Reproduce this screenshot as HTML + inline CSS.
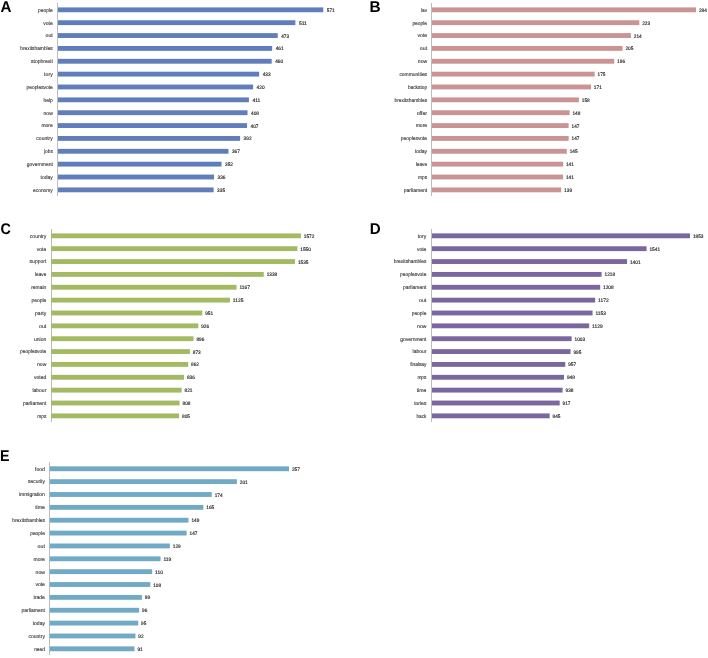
<!DOCTYPE html>
<html><head><meta charset="utf-8"><style>
html,body{margin:0;padding:0;background:#fff;}
body{width:708px;height:658px;position:relative;overflow:hidden;font-family:"Liberation Sans",sans-serif;}
svg{position:absolute;left:0;top:0;}
text{font-family:"Liberation Sans",sans-serif;text-rendering:geometricPrecision;}
.t{fill:#333333;stroke:#333333;stroke-width:0.12px;font-size:5.3px;}
.v{fill:#202020;stroke:#202020;stroke-width:0.14px;font-size:5px;}
svg{will-change:transform;}
.L{font-weight:bold;font-size:15.5px;fill:#000;}
</style></head><body>
<svg width="708" height="658" viewBox="0 0 708 658">
<text class="L" x="0.62" y="11.8" textLength="10.98" lengthAdjust="spacingAndGlyphs">A</text>
<rect x="57" y="3" width="1" height="193" fill="#bcbcbc"/>
<rect x="58" y="7.4" width="265.25" height="4.85" fill="#607EBB"/>
<rect x="58" y="20.26" width="237.38" height="4.85" fill="#607EBB"/>
<rect x="58" y="33.12" width="219.73" height="4.85" fill="#607EBB"/>
<rect x="58" y="45.98" width="214.15" height="4.85" fill="#607EBB"/>
<rect x="58" y="58.84" width="213.69" height="4.85" fill="#607EBB"/>
<rect x="58" y="71.7" width="201.14" height="4.85" fill="#607EBB"/>
<rect x="58" y="84.56" width="195.11" height="4.85" fill="#607EBB"/>
<rect x="58" y="97.42" width="190.92" height="4.85" fill="#607EBB"/>
<rect x="58" y="110.28" width="189.53" height="4.85" fill="#607EBB"/>
<rect x="58" y="123.14" width="189.07" height="4.85" fill="#607EBB"/>
<rect x="58" y="136" width="182.1" height="4.85" fill="#607EBB"/>
<rect x="58" y="148.86" width="170.48" height="4.85" fill="#607EBB"/>
<rect x="58" y="161.72" width="163.52" height="4.85" fill="#607EBB"/>
<rect x="58" y="174.58" width="156.08" height="4.85" fill="#607EBB"/>
<rect x="58" y="187.44" width="155.62" height="4.85" fill="#607EBB"/>
<text class="L" x="369.57" y="11.7" textLength="11.13" lengthAdjust="spacingAndGlyphs">B</text>
<rect x="431" y="3" width="1" height="193" fill="#bcbcbc"/>
<rect x="432" y="7.4" width="264" height="4.85" fill="#C99493"/>
<rect x="432" y="20.26" width="207.3" height="4.85" fill="#C99493"/>
<rect x="432" y="33.12" width="198.93" height="4.85" fill="#C99493"/>
<rect x="432" y="45.98" width="190.56" height="4.85" fill="#C99493"/>
<rect x="432" y="58.84" width="182.2" height="4.85" fill="#C99493"/>
<rect x="432" y="71.7" width="162.68" height="4.85" fill="#C99493"/>
<rect x="432" y="84.56" width="158.96" height="4.85" fill="#C99493"/>
<rect x="432" y="97.42" width="146.87" height="4.85" fill="#C99493"/>
<rect x="432" y="110.28" width="137.58" height="4.85" fill="#C99493"/>
<rect x="432" y="123.14" width="136.65" height="4.85" fill="#C99493"/>
<rect x="432" y="136" width="136.65" height="4.85" fill="#C99493"/>
<rect x="432" y="148.86" width="134.79" height="4.85" fill="#C99493"/>
<rect x="432" y="161.72" width="131.07" height="4.85" fill="#C99493"/>
<rect x="432" y="174.58" width="131.07" height="4.85" fill="#C99493"/>
<rect x="432" y="187.44" width="129.21" height="4.85" fill="#C99493"/>
<text class="L" x="0.41" y="233.55" textLength="10.38" lengthAdjust="spacingAndGlyphs">C</text>
<rect x="51" y="229" width="1" height="193" fill="#bcbcbc"/>
<rect x="51.3" y="233.4" width="249.6" height="4.85" fill="#A4BA62"/>
<rect x="51.3" y="246.26" width="246.11" height="4.85" fill="#A4BA62"/>
<rect x="51.3" y="259.12" width="243.73" height="4.85" fill="#A4BA62"/>
<rect x="51.3" y="271.98" width="212.45" height="4.85" fill="#A4BA62"/>
<rect x="51.3" y="284.84" width="185.29" height="4.85" fill="#A4BA62"/>
<rect x="51.3" y="297.7" width="178.63" height="4.85" fill="#A4BA62"/>
<rect x="51.3" y="310.56" width="151" height="4.85" fill="#A4BA62"/>
<rect x="51.3" y="323.42" width="147.03" height="4.85" fill="#A4BA62"/>
<rect x="51.3" y="336.28" width="142.27" height="4.85" fill="#A4BA62"/>
<rect x="51.3" y="349.14" width="138.61" height="4.85" fill="#A4BA62"/>
<rect x="51.3" y="362" width="136.87" height="4.85" fill="#A4BA62"/>
<rect x="51.3" y="374.86" width="132.74" height="4.85" fill="#A4BA62"/>
<rect x="51.3" y="387.72" width="130.36" height="4.85" fill="#A4BA62"/>
<rect x="51.3" y="400.58" width="128.29" height="4.85" fill="#A4BA62"/>
<rect x="51.3" y="413.44" width="127.82" height="4.85" fill="#A4BA62"/>
<text class="L" x="369.69" y="233.5" textLength="10.95" lengthAdjust="spacingAndGlyphs">D</text>
<rect x="431" y="229" width="1" height="193" fill="#bcbcbc"/>
<rect x="432" y="233.4" width="258" height="4.85" fill="#7A67A0"/>
<rect x="432" y="246.26" width="214.56" height="4.85" fill="#7A67A0"/>
<rect x="432" y="259.12" width="195.07" height="4.85" fill="#7A67A0"/>
<rect x="432" y="271.98" width="169.59" height="4.85" fill="#7A67A0"/>
<rect x="432" y="284.84" width="168.19" height="4.85" fill="#7A67A0"/>
<rect x="432" y="297.7" width="163.18" height="4.85" fill="#7A67A0"/>
<rect x="432" y="310.56" width="160.54" height="4.85" fill="#7A67A0"/>
<rect x="432" y="323.42" width="157.19" height="4.85" fill="#7A67A0"/>
<rect x="432" y="336.28" width="139.65" height="4.85" fill="#7A67A0"/>
<rect x="432" y="349.14" width="138.54" height="4.85" fill="#7A67A0"/>
<rect x="432" y="362" width="133.25" height="4.85" fill="#7A67A0"/>
<rect x="432" y="374.86" width="131.99" height="4.85" fill="#7A67A0"/>
<rect x="432" y="387.72" width="130.6" height="4.85" fill="#7A67A0"/>
<rect x="432" y="400.58" width="127.68" height="4.85" fill="#7A67A0"/>
<rect x="432" y="413.44" width="117.65" height="4.85" fill="#7A67A0"/>
<text class="L" x="0.05" y="460.7" textLength="9.51" lengthAdjust="spacingAndGlyphs">E</text>
<rect x="49" y="462" width="1" height="193" fill="#bcbcbc"/>
<rect x="49.8" y="466.35" width="239.2" height="4.85" fill="#71AAC5"/>
<rect x="49.8" y="479.21" width="187.08" height="4.85" fill="#71AAC5"/>
<rect x="49.8" y="492.07" width="161.95" height="4.85" fill="#71AAC5"/>
<rect x="49.8" y="504.93" width="153.57" height="4.85" fill="#71AAC5"/>
<rect x="49.8" y="517.79" width="138.68" height="4.85" fill="#71AAC5"/>
<rect x="49.8" y="530.65" width="136.82" height="4.85" fill="#71AAC5"/>
<rect x="49.8" y="543.51" width="120.07" height="4.85" fill="#71AAC5"/>
<rect x="49.8" y="556.37" width="110.76" height="4.85" fill="#71AAC5"/>
<rect x="49.8" y="569.23" width="102.38" height="4.85" fill="#71AAC5"/>
<rect x="49.8" y="582.09" width="100.52" height="4.85" fill="#71AAC5"/>
<rect x="49.8" y="594.95" width="92.14" height="4.85" fill="#71AAC5"/>
<rect x="49.8" y="607.81" width="89.35" height="4.85" fill="#71AAC5"/>
<rect x="49.8" y="620.67" width="88.42" height="4.85" fill="#71AAC5"/>
<rect x="49.8" y="633.53" width="85.63" height="4.85" fill="#71AAC5"/>
<rect x="49.8" y="646.39" width="84.7" height="4.85" fill="#71AAC5"/>
<text class="t" x="38.08" y="11.67" textLength="14.72" lengthAdjust="spacingAndGlyphs">people</text>
<text class="v" x="326.75" y="11.82" textLength="7.93" lengthAdjust="spacingAndGlyphs">571</text>
<text class="t" x="43.29" y="24.54" textLength="9.51" lengthAdjust="spacingAndGlyphs">vote</text>
<text class="v" x="298.88" y="24.68" textLength="7.93" lengthAdjust="spacingAndGlyphs">511</text>
<text class="t" x="45.52" y="37.39" textLength="7.28" lengthAdjust="spacingAndGlyphs">out</text>
<text class="v" x="281.23" y="37.54" textLength="7.93" lengthAdjust="spacingAndGlyphs">473</text>
<text class="t" x="20.21" y="50.25" textLength="32.59" lengthAdjust="spacingAndGlyphs">brexitshambles</text>
<text class="v" x="275.65" y="50.4" textLength="7.93" lengthAdjust="spacingAndGlyphs">461</text>
<text class="t" x="31.03" y="63.11" textLength="21.77" lengthAdjust="spacingAndGlyphs">stopbrexit</text>
<text class="v" x="275.19" y="63.26" textLength="7.93" lengthAdjust="spacingAndGlyphs">460</text>
<text class="t" x="44.06" y="75.97" textLength="8.74" lengthAdjust="spacingAndGlyphs">tory</text>
<text class="v" x="262.64" y="76.12" textLength="7.93" lengthAdjust="spacingAndGlyphs">433</text>
<text class="t" x="26.52" y="88.83" textLength="26.28" lengthAdjust="spacingAndGlyphs">peoplesvote</text>
<text class="v" x="256.61" y="88.98" textLength="7.93" lengthAdjust="spacingAndGlyphs">420</text>
<text class="t" x="43.47" y="101.69" textLength="9.33" lengthAdjust="spacingAndGlyphs">help</text>
<text class="v" x="252.42" y="101.84" textLength="7.93" lengthAdjust="spacingAndGlyphs">411</text>
<text class="t" x="43.52" y="114.55" textLength="9.28" lengthAdjust="spacingAndGlyphs">now</text>
<text class="v" x="251.03" y="114.7" textLength="7.93" lengthAdjust="spacingAndGlyphs">408</text>
<text class="t" x="41.39" y="127.41" textLength="11.41" lengthAdjust="spacingAndGlyphs">more</text>
<text class="v" x="250.57" y="127.56" textLength="7.93" lengthAdjust="spacingAndGlyphs">407</text>
<text class="t" x="36.33" y="140.28" textLength="16.47" lengthAdjust="spacingAndGlyphs">country</text>
<text class="v" x="243.6" y="140.43" textLength="7.93" lengthAdjust="spacingAndGlyphs">392</text>
<text class="t" x="43.97" y="153.13" textLength="8.83" lengthAdjust="spacingAndGlyphs">jobs</text>
<text class="v" x="231.98" y="153.28" textLength="7.93" lengthAdjust="spacingAndGlyphs">367</text>
<text class="t" x="26.66" y="166" textLength="26.14" lengthAdjust="spacingAndGlyphs">government</text>
<text class="v" x="225.02" y="166.15" textLength="7.93" lengthAdjust="spacingAndGlyphs">352</text>
<text class="t" x="40.62" y="178.86" textLength="12.18" lengthAdjust="spacingAndGlyphs">today</text>
<text class="v" x="217.58" y="179.01" textLength="7.93" lengthAdjust="spacingAndGlyphs">336</text>
<text class="t" x="33.1" y="191.72" textLength="19.7" lengthAdjust="spacingAndGlyphs">economy</text>
<text class="v" x="217.12" y="191.87" textLength="7.93" lengthAdjust="spacingAndGlyphs">335</text>
<text class="t" x="421.01" y="11.67" textLength="6.09" lengthAdjust="spacingAndGlyphs">lav</text>
<text class="v" x="698.9" y="11.82" textLength="7.93" lengthAdjust="spacingAndGlyphs">284</text>
<text class="t" x="412.38" y="24.54" textLength="14.72" lengthAdjust="spacingAndGlyphs">people</text>
<text class="v" x="642.2" y="24.68" textLength="7.93" lengthAdjust="spacingAndGlyphs">223</text>
<text class="t" x="417.59" y="37.39" textLength="9.51" lengthAdjust="spacingAndGlyphs">vote</text>
<text class="v" x="633.83" y="37.54" textLength="7.93" lengthAdjust="spacingAndGlyphs">214</text>
<text class="t" x="419.82" y="50.25" textLength="7.28" lengthAdjust="spacingAndGlyphs">out</text>
<text class="v" x="625.46" y="50.4" textLength="7.93" lengthAdjust="spacingAndGlyphs">205</text>
<text class="t" x="417.82" y="63.11" textLength="9.28" lengthAdjust="spacingAndGlyphs">now</text>
<text class="v" x="617.1" y="63.26" textLength="7.93" lengthAdjust="spacingAndGlyphs">196</text>
<text class="t" x="399.38" y="75.97" textLength="27.72" lengthAdjust="spacingAndGlyphs">communities</text>
<text class="v" x="597.58" y="76.12" textLength="7.93" lengthAdjust="spacingAndGlyphs">175</text>
<text class="t" x="407.88" y="88.83" textLength="19.22" lengthAdjust="spacingAndGlyphs">backstop</text>
<text class="v" x="593.86" y="88.98" textLength="7.93" lengthAdjust="spacingAndGlyphs">171</text>
<text class="t" x="394.51" y="101.69" textLength="32.59" lengthAdjust="spacingAndGlyphs">brexitshambles</text>
<text class="v" x="581.77" y="101.84" textLength="7.93" lengthAdjust="spacingAndGlyphs">158</text>
<text class="t" x="416.68" y="114.55" textLength="10.42" lengthAdjust="spacingAndGlyphs">offer</text>
<text class="v" x="572.48" y="114.7" textLength="7.93" lengthAdjust="spacingAndGlyphs">148</text>
<text class="t" x="415.69" y="127.41" textLength="11.41" lengthAdjust="spacingAndGlyphs">more</text>
<text class="v" x="571.55" y="127.56" textLength="7.93" lengthAdjust="spacingAndGlyphs">147</text>
<text class="t" x="400.82" y="140.28" textLength="26.28" lengthAdjust="spacingAndGlyphs">peoplesvote</text>
<text class="v" x="571.55" y="140.43" textLength="7.93" lengthAdjust="spacingAndGlyphs">147</text>
<text class="t" x="414.92" y="153.13" textLength="12.18" lengthAdjust="spacingAndGlyphs">today</text>
<text class="v" x="569.69" y="153.28" textLength="7.93" lengthAdjust="spacingAndGlyphs">145</text>
<text class="t" x="415.78" y="166" textLength="11.32" lengthAdjust="spacingAndGlyphs">leave</text>
<text class="v" x="565.97" y="166.15" textLength="7.93" lengthAdjust="spacingAndGlyphs">141</text>
<text class="t" x="418.1" y="178.86" textLength="9" lengthAdjust="spacingAndGlyphs">mps</text>
<text class="v" x="565.97" y="179.01" textLength="7.93" lengthAdjust="spacingAndGlyphs">141</text>
<text class="t" x="403.75" y="191.72" textLength="23.35" lengthAdjust="spacingAndGlyphs">parliament</text>
<text class="v" x="564.11" y="191.87" textLength="7.93" lengthAdjust="spacingAndGlyphs">139</text>
<text class="t" x="29.83" y="237.68" textLength="16.47" lengthAdjust="spacingAndGlyphs">country</text>
<text class="v" x="303.8" y="237.83" textLength="10.57" lengthAdjust="spacingAndGlyphs">1572</text>
<text class="t" x="36.79" y="250.53" textLength="9.51" lengthAdjust="spacingAndGlyphs">vote</text>
<text class="v" x="300.31" y="250.69" textLength="10.57" lengthAdjust="spacingAndGlyphs">1550</text>
<text class="t" x="29.62" y="263.4" textLength="16.68" lengthAdjust="spacingAndGlyphs">support</text>
<text class="v" x="297.93" y="263.55" textLength="10.57" lengthAdjust="spacingAndGlyphs">1535</text>
<text class="t" x="34.98" y="276.26" textLength="11.32" lengthAdjust="spacingAndGlyphs">leave</text>
<text class="v" x="266.65" y="276.41" textLength="10.57" lengthAdjust="spacingAndGlyphs">1338</text>
<text class="t" x="31.18" y="289.12" textLength="15.12" lengthAdjust="spacingAndGlyphs">remain</text>
<text class="v" x="239.49" y="289.27" textLength="10.57" lengthAdjust="spacingAndGlyphs">1167</text>
<text class="t" x="31.58" y="301.98" textLength="14.72" lengthAdjust="spacingAndGlyphs">people</text>
<text class="v" x="232.83" y="302.12" textLength="10.57" lengthAdjust="spacingAndGlyphs">1125</text>
<text class="t" x="35.06" y="314.84" textLength="11.24" lengthAdjust="spacingAndGlyphs">party</text>
<text class="v" x="205.2" y="314.99" textLength="7.93" lengthAdjust="spacingAndGlyphs">951</text>
<text class="t" x="39.02" y="327.7" textLength="7.28" lengthAdjust="spacingAndGlyphs">out</text>
<text class="v" x="201.23" y="327.85" textLength="7.93" lengthAdjust="spacingAndGlyphs">926</text>
<text class="t" x="34.06" y="340.56" textLength="12.24" lengthAdjust="spacingAndGlyphs">union</text>
<text class="v" x="196.47" y="340.7" textLength="7.93" lengthAdjust="spacingAndGlyphs">896</text>
<text class="t" x="20.02" y="353.42" textLength="26.28" lengthAdjust="spacingAndGlyphs">peoplesvote</text>
<text class="v" x="192.81" y="353.56" textLength="7.93" lengthAdjust="spacingAndGlyphs">873</text>
<text class="t" x="37.02" y="366.28" textLength="9.28" lengthAdjust="spacingAndGlyphs">now</text>
<text class="v" x="191.07" y="366.43" textLength="7.93" lengthAdjust="spacingAndGlyphs">862</text>
<text class="t" x="34.03" y="379.14" textLength="12.27" lengthAdjust="spacingAndGlyphs">voted</text>
<text class="v" x="186.94" y="379.29" textLength="7.93" lengthAdjust="spacingAndGlyphs">836</text>
<text class="t" x="32.47" y="392" textLength="13.83" lengthAdjust="spacingAndGlyphs">labour</text>
<text class="v" x="184.56" y="392.15" textLength="7.93" lengthAdjust="spacingAndGlyphs">821</text>
<text class="t" x="22.95" y="404.86" textLength="23.35" lengthAdjust="spacingAndGlyphs">parliament</text>
<text class="v" x="182.49" y="405.01" textLength="7.93" lengthAdjust="spacingAndGlyphs">808</text>
<text class="t" x="37.3" y="417.72" textLength="9" lengthAdjust="spacingAndGlyphs">mps</text>
<text class="v" x="182.02" y="417.87" textLength="7.93" lengthAdjust="spacingAndGlyphs">805</text>
<text class="t" x="417.66" y="237.68" textLength="8.74" lengthAdjust="spacingAndGlyphs">tory</text>
<text class="v" x="692.9" y="237.83" textLength="10.57" lengthAdjust="spacingAndGlyphs">1853</text>
<text class="t" x="416.89" y="250.53" textLength="9.51" lengthAdjust="spacingAndGlyphs">vote</text>
<text class="v" x="649.46" y="250.69" textLength="10.57" lengthAdjust="spacingAndGlyphs">1541</text>
<text class="t" x="393.81" y="263.4" textLength="32.59" lengthAdjust="spacingAndGlyphs">brexitshambles</text>
<text class="v" x="629.97" y="263.55" textLength="10.57" lengthAdjust="spacingAndGlyphs">1401</text>
<text class="t" x="400.12" y="276.26" textLength="26.28" lengthAdjust="spacingAndGlyphs">peoplesvote</text>
<text class="v" x="604.49" y="276.41" textLength="10.57" lengthAdjust="spacingAndGlyphs">1218</text>
<text class="t" x="403.05" y="289.12" textLength="23.35" lengthAdjust="spacingAndGlyphs">parliament</text>
<text class="v" x="603.09" y="289.27" textLength="10.57" lengthAdjust="spacingAndGlyphs">1208</text>
<text class="t" x="419.12" y="301.98" textLength="7.28" lengthAdjust="spacingAndGlyphs">out</text>
<text class="v" x="598.08" y="302.12" textLength="10.57" lengthAdjust="spacingAndGlyphs">1172</text>
<text class="t" x="411.68" y="314.84" textLength="14.72" lengthAdjust="spacingAndGlyphs">people</text>
<text class="v" x="595.44" y="314.99" textLength="10.57" lengthAdjust="spacingAndGlyphs">1153</text>
<text class="t" x="417.12" y="327.7" textLength="9.28" lengthAdjust="spacingAndGlyphs">now</text>
<text class="v" x="592.09" y="327.85" textLength="10.57" lengthAdjust="spacingAndGlyphs">1129</text>
<text class="t" x="400.26" y="340.56" textLength="26.14" lengthAdjust="spacingAndGlyphs">government</text>
<text class="v" x="574.55" y="340.7" textLength="10.57" lengthAdjust="spacingAndGlyphs">1003</text>
<text class="t" x="412.57" y="353.42" textLength="13.83" lengthAdjust="spacingAndGlyphs">labour</text>
<text class="v" x="573.44" y="353.56" textLength="7.93" lengthAdjust="spacingAndGlyphs">995</text>
<text class="t" x="410.17" y="366.28" textLength="16.23" lengthAdjust="spacingAndGlyphs">finalsay</text>
<text class="v" x="568.15" y="366.43" textLength="7.93" lengthAdjust="spacingAndGlyphs">957</text>
<text class="t" x="417.4" y="379.14" textLength="9" lengthAdjust="spacingAndGlyphs">mps</text>
<text class="v" x="566.89" y="379.29" textLength="7.93" lengthAdjust="spacingAndGlyphs">948</text>
<text class="t" x="416.63" y="392" textLength="9.77" lengthAdjust="spacingAndGlyphs">time</text>
<text class="v" x="565.5" y="392.15" textLength="7.93" lengthAdjust="spacingAndGlyphs">938</text>
<text class="t" x="414.17" y="404.86" textLength="12.23" lengthAdjust="spacingAndGlyphs">tories</text>
<text class="v" x="562.58" y="405.01" textLength="7.93" lengthAdjust="spacingAndGlyphs">917</text>
<text class="t" x="416.52" y="417.72" textLength="9.88" lengthAdjust="spacingAndGlyphs">back</text>
<text class="v" x="552.55" y="417.87" textLength="7.93" lengthAdjust="spacingAndGlyphs">845</text>
<text class="t" x="35.01" y="470.63" textLength="9.89" lengthAdjust="spacingAndGlyphs">food</text>
<text class="v" x="291.9" y="470.78" textLength="7.93" lengthAdjust="spacingAndGlyphs">257</text>
<text class="t" x="28.08" y="483.49" textLength="16.82" lengthAdjust="spacingAndGlyphs">security</text>
<text class="v" x="239.78" y="483.64" textLength="7.93" lengthAdjust="spacingAndGlyphs">201</text>
<text class="t" x="18.8" y="496.35" textLength="26.1" lengthAdjust="spacingAndGlyphs">immigration</text>
<text class="v" x="214.65" y="496.5" textLength="7.93" lengthAdjust="spacingAndGlyphs">174</text>
<text class="t" x="35.13" y="509.21" textLength="9.77" lengthAdjust="spacingAndGlyphs">time</text>
<text class="v" x="206.27" y="509.36" textLength="7.93" lengthAdjust="spacingAndGlyphs">165</text>
<text class="t" x="12.31" y="522.06" textLength="32.59" lengthAdjust="spacingAndGlyphs">brexitshambles</text>
<text class="v" x="191.38" y="522.21" textLength="7.93" lengthAdjust="spacingAndGlyphs">149</text>
<text class="t" x="30.18" y="534.92" textLength="14.72" lengthAdjust="spacingAndGlyphs">people</text>
<text class="v" x="189.52" y="535.07" textLength="7.93" lengthAdjust="spacingAndGlyphs">147</text>
<text class="t" x="37.62" y="547.78" textLength="7.28" lengthAdjust="spacingAndGlyphs">out</text>
<text class="v" x="172.77" y="547.93" textLength="7.93" lengthAdjust="spacingAndGlyphs">129</text>
<text class="t" x="33.49" y="560.64" textLength="11.41" lengthAdjust="spacingAndGlyphs">more</text>
<text class="v" x="163.46" y="560.79" textLength="7.93" lengthAdjust="spacingAndGlyphs">119</text>
<text class="t" x="35.62" y="573.5" textLength="9.28" lengthAdjust="spacingAndGlyphs">now</text>
<text class="v" x="155.08" y="573.65" textLength="7.93" lengthAdjust="spacingAndGlyphs">110</text>
<text class="t" x="35.39" y="586.37" textLength="9.51" lengthAdjust="spacingAndGlyphs">vote</text>
<text class="v" x="153.22" y="586.51" textLength="7.93" lengthAdjust="spacingAndGlyphs">108</text>
<text class="t" x="33.42" y="599.23" textLength="11.48" lengthAdjust="spacingAndGlyphs">trade</text>
<text class="v" x="144.84" y="599.38" textLength="5.28" lengthAdjust="spacingAndGlyphs">99</text>
<text class="t" x="21.55" y="612.08" textLength="23.35" lengthAdjust="spacingAndGlyphs">parliament</text>
<text class="v" x="142.05" y="612.23" textLength="5.28" lengthAdjust="spacingAndGlyphs">96</text>
<text class="t" x="32.72" y="624.95" textLength="12.18" lengthAdjust="spacingAndGlyphs">today</text>
<text class="v" x="141.12" y="625.1" textLength="5.28" lengthAdjust="spacingAndGlyphs">95</text>
<text class="t" x="28.43" y="637.8" textLength="16.47" lengthAdjust="spacingAndGlyphs">country</text>
<text class="v" x="138.33" y="637.95" textLength="5.28" lengthAdjust="spacingAndGlyphs">92</text>
<text class="t" x="34.16" y="650.66" textLength="10.74" lengthAdjust="spacingAndGlyphs">need</text>
<text class="v" x="137.4" y="650.81" textLength="5.28" lengthAdjust="spacingAndGlyphs">91</text>
</svg>
</body></html>
